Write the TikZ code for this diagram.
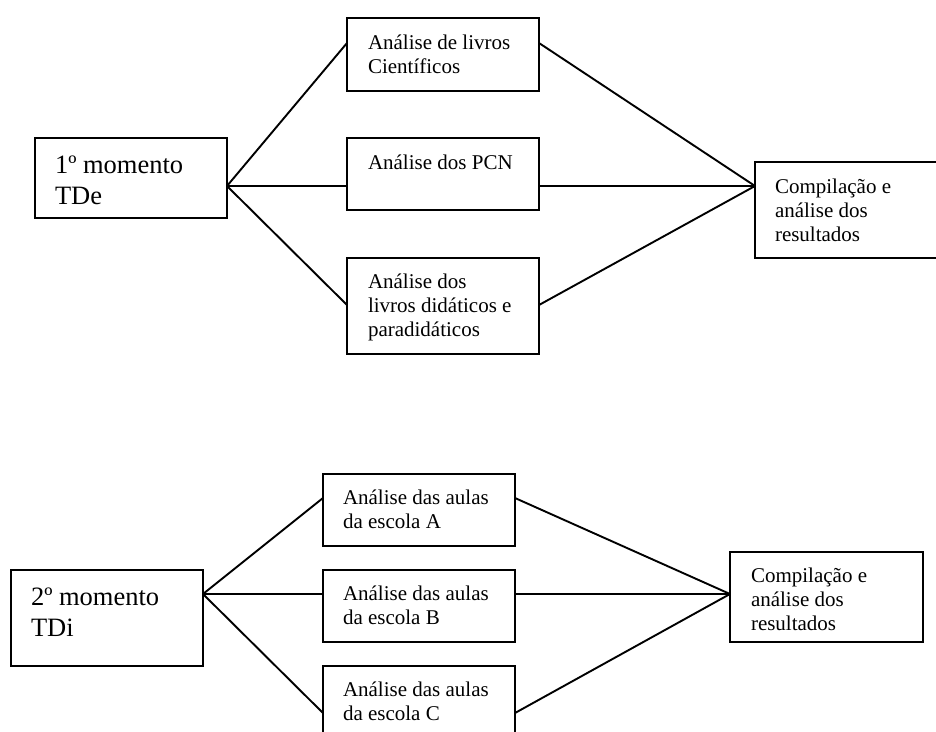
\documentclass[tikz,border=0pt]{standalone}
\usepackage{fontspec}
\setmainfont{Liberation Serif}
\usetikzlibrary{calc}
\newcommand\tlines[1]{\begin{tabular}[t]{@{}l@{}}#1\end{tabular}}
\tikzset{
  box/.style={draw=black, line width=2pt, anchor=north west, inner sep=0pt, outer sep=0pt},
  txt/.style={anchor=base west, inner sep=0pt, outer sep=0pt, font=\fontsize{21}{24}\selectfont},
  bigtxt/.style={anchor=base west, inner sep=0pt, outer sep=0pt, font=\fontsize{26.5}{31}\selectfont},
  link/.style={draw=black, line width=1.9pt, line cap=round}
}
\begin{document}
\begin{tikzpicture}[x=1pt, y=-1pt]
\useasboundingbox (0,0) rectangle (936,731);
\clip (0,0) rectangle (936,731);
% ---------- first block ----------
\node[box, minimum width=192pt, minimum height=80pt] (m1) at (35,138) {};
\node[box, minimum width=192pt, minimum height=73pt] (a1) at (347,18) {};
\node[box, minimum width=192pt, minimum height=72pt] (a2) at (347,138) {};
\node[box, minimum width=192pt, minimum height=96pt] (a3) at (347,258) {};
\node[box, minimum width=195pt, minimum height=96pt] (c1) at (755,162) {};
\node[bigtxt] (m1t) at ($(m1.north west)+(20,35.5)$) {\tlines{1º momento\\TDe}};
\node[txt] (a1t) at ($(a1.north west)+(21,31)$) {\tlines{Análise de livros\\Científicos}};
\node[txt] (a2t) at ($(a2.north west)+(21,31)$) {\tlines{Análise dos PCN}};
\node[txt] (a3t) at ($(a3.north west)+(21,30.5)$) {\tlines{Análise dos\\livros didáticos e\\paradidáticos}};
\node[txt] (c1t) at ($(c1.north west)+(20,31)$) {\tlines{Compilação e\\análise dos\\resultados}};
\coordinate (m1o) at ($(m1.north east)+(0,48)$);
\coordinate (c1i) at ($(c1.north west)+(0,24)$);
\draw[link] (m1o) -- ($(a1.north west)+(0,25)$);
\draw[link] (m1o) -- ($(a2.north west)+(0,48)$);
\draw[link] (m1o) -- ($(a3.north west)+(0,47)$);
\draw[link] ($(a1.north east)+(0,25)$) -- (c1i);
\draw[link] ($(a2.north east)+(0,48)$) -- (c1i);
\draw[link] ($(a3.north east)+(0,47)$) -- (c1i);
% ---------- second block ----------
\node[box, minimum width=192pt, minimum height=96pt] (m2) at (11,570) {};
\node[box, minimum width=192pt, minimum height=72pt] (b1) at (323,474) {};
\node[box, minimum width=192pt, minimum height=72pt] (b2) at (323,570) {};
\node[box, minimum width=192pt, minimum height=72pt] (b3) at (323,666) {};
\node[box, minimum width=193pt, minimum height=90pt] (c2) at (730,552) {};
\node[bigtxt] (m2t) at ($(m2.north west)+(20,35.5)$) {\tlines{2º momento\\TDi}};
\node[txt] (b1t) at ($(b1.north west)+(20,30.5)$) {\tlines{Análise das aulas\\da escola A}};
\node[txt] (b2t) at ($(b2.north west)+(20,30.5)$) {\tlines{Análise das aulas\\da escola B}};
\node[txt] (b3t) at ($(b3.north west)+(20,30.5)$) {\tlines{Análise das aulas\\da escola C}};
\node[txt] (c2t) at ($(c2.north west)+(21,30.5)$) {\tlines{Compilação e\\análise dos\\resultados}};
\coordinate (m2o) at ($(m2.north east)+(0,24)$);
\coordinate (c2i) at ($(c2.north west)+(0,42)$);
\draw[link] (m2o) -- ($(b1.north west)+(0,24)$);
\draw[link] (m2o) -- ($(b2.north west)+(0,24)$);
\draw[link] (m2o) -- ($(b3.north west)+(0,47)$);
\draw[link] ($(b1.north east)+(0,24)$) -- (c2i);
\draw[link] ($(b2.north east)+(0,24)$) -- (c2i);
\draw[link] ($(b3.north east)+(0,47)$) -- (c2i);
\end{tikzpicture}
\end{document}
